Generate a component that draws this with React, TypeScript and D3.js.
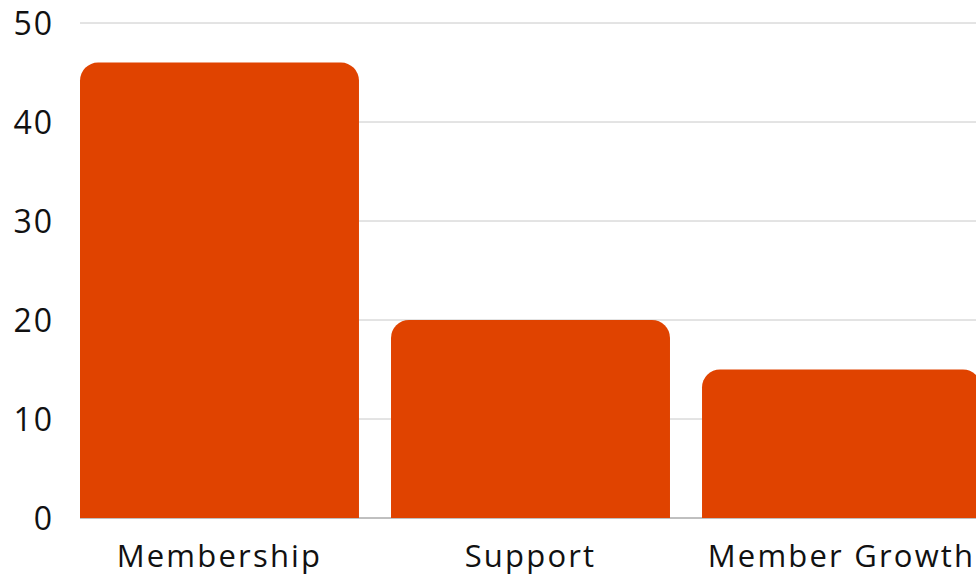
import * as d3 from 'd3';

const CATEGORIES = ['Membership', 'Support', 'Member Growth'];
const VALUES = [46, 20, 15];
const Y_TICKS = [0, 10, 20, 30, 40, 50];

const WIDTH = 976;
const HEIGHT = 578;
const BAR_COLOR = '#e04300';
const FONT = "'Open Sans', 'Noto Sans', sans-serif";

function topRoundedBar(x: number, y: number, w: number, h: number, r: number) {
  const rr = Math.min(r, w / 2, h);
  return `M${x},${y + h} L${x},${y + rr} A${rr},${rr} 0 0 1 ${x + rr},${y} L${x + w - rr},${y} A${rr},${rr} 0 0 1 ${x + w},${y + rr} L${x + w},${y + h} Z`;
}

export default function App() {
  const plotLeft = 80;
  const plotRight = 976;

  const x = d3.scaleBand<string>()
    .domain(CATEGORIES)
    .range([plotLeft, 981])
    .paddingInner(0.103)
    .paddingOuter(0);

  const y = d3.scaleLinear().domain([0, 50]).range([518, 23]);

  return (
    <svg
      width={WIDTH}
      height={HEIGHT}
      style={{ position: 'absolute', left: 0, top: 0, background: 'white', fontFamily: FONT }}
    >
      {/* Gridlines */}
      {Y_TICKS.filter(t => t > 0).map(t => (
        <line key={t} x1={plotLeft} x2={plotRight} y1={y(t)} y2={y(t)} stroke="#c8c8c8" strokeWidth={1} />
      ))}
      <line x1={plotLeft} x2={plotRight} y1={y(0)} y2={y(0)} stroke="#808080" strokeWidth={1} />

      {/* Bars */}
      {CATEGORIES.map((c, i) => {
        const bx = x(c) ?? 0;
        const by = y(VALUES[i]);
        return (
          <path
            key={c}
            d={topRoundedBar(bx, by, x.bandwidth(), y(0) - by, 18)}
            fill={BAR_COLOR}
          />
        );
      })}

      {/* Y tick labels */}
      {Y_TICKS.map(t => (
        <text key={t} x={54} y={y(t)} dy="0.36em" textAnchor="end" fontSize={32} fill="#111" letterSpacing={2}>
          {t}
        </text>
      ))}

      {/* X labels */}
      {CATEGORIES.map(c => (
        <text
          key={c}
          x={(x(c) ?? 0) + x.bandwidth() / 2}
          y={567}
          textAnchor="middle"
          fontSize={31}
          fill="#111"
          letterSpacing={2.2}
        >
          {c}
        </text>
      ))}
    </svg>
  );
}
